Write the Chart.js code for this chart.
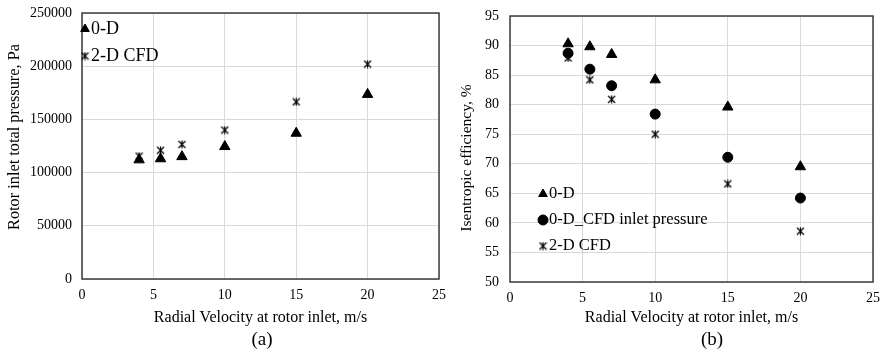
<!DOCTYPE html>
<html><head><meta charset="utf-8">
<script src="https://cdn.jsdelivr.net/npm/chart.js@4/dist/chart.umd.min.js"></script>
<style>
html,body{margin:0;padding:0;background:#fff;width:880px;height:360px;overflow:hidden;}
#wa{position:absolute;left:0;top:0;width:460px;height:360px;}
#wb{position:absolute;left:440px;top:0;width:448px;height:360px;}
.cap{position:absolute;top:328px;font-family:"Liberation Serif","Times New Roman",serif;font-size:19px;color:#000;transform:translateX(-50%);}
</style></head>
<body>
<div id="wa"><canvas id="ca" width="460" height="360"></canvas></div>
<div id="wb"><canvas id="cb" width="448" height="360"></canvas></div>
<div class="cap" style="left:262px">(a)</div>
<div class="cap" style="left:712px">(b)</div>
<script>
// ---- data ----
const velocity = [4, 5.5, 7, 10, 15, 20];
const pressure0D = [112000, 113000, 115000, 124500, 137000, 173500];
const pressureCFD = [115500, 121000, 126500, 140000, 166500, 202000];
const eff0D = [90.3, 89.8, 88.5, 84.2, 79.6, 69.5];
const eff0DCFDInlet = [88.7, 86.0, 83.2, 78.4, 71.1, 64.2];
const effCFD = [87.9, 84.2, 80.9, 75.0, 66.6, 58.6];
const xTicksMax = 25;
const labelsA = ['0-D', '2-D CFD'];
const labelsB = ['0-D', '0-D_CFD inlet pressure', '2-D CFD'];
const xTitle = 'Radial Velocity at rotor inlet, m/s';
const yTitleA = 'Rotor inlet total pressure, Pa';
const yTitleB = 'Isentropic efficiency, %';

const FONT = '"Liberation Serif","Times New Roman",serif';

function starCanvas(size, lw) {
  const c = document.createElement('canvas');
  c.width = size; c.height = size;
  const g = c.getContext('2d');
  g.strokeStyle = '#000'; g.lineWidth = lw;
  const p = 1;
  g.beginPath();
  g.moveTo(p, p); g.lineTo(size - p, size - p);
  g.moveTo(size - p, p); g.lineTo(p, size - p);
  g.moveTo(size / 2, p - 0.5); g.lineTo(size / 2, size - p + 0.5);
  g.stroke();
  return c;
}
const star = starCanvas(9, 1.2);

function mk(xs, ys) { return xs.map((x, i) => ({x: x, y: ys[i]})); }

const borderPlugin = {
  id: 'boxBorder',
  afterDraw(chart) {
    const a = chart.chartArea, g = chart.ctx;
    g.save();
    g.strokeStyle = '#3c3c3c'; g.lineWidth = 1.5;
    g.strokeRect(a.left, a.top, a.right - a.left, a.bottom - a.top);
    g.restore();
  }
};

function yTitlePlugin(text, x, y, size) {
  return {
    id: 'yTitle',
    afterDraw(chart) {
      const g = chart.ctx;
      g.save();
      g.translate(x, y);
      g.rotate(-Math.PI / 2);
      g.font = size + 'px ' + FONT;
      g.fillStyle = '#000';
      g.textAlign = 'center';
      g.textBaseline = 'middle';
      g.fillText(text, 0, 0);
      g.restore();
    }
  };
}

function legendPlugin(items, x0, y0, dy, size) {
  return {
    id: 'inLegend',
    afterDraw(chart) {
      const g = chart.ctx;
      g.save();
      g.font = size + 'px ' + FONT;
      g.textBaseline = 'middle';
      g.fillStyle = '#000';
      items.forEach((it, i) => {
        const y = y0 + i * dy;
        if (it.style === 'img') {
          g.drawImage(it.img, x0 - it.img.width / 2, y - it.img.height / 2);
        } else {
          Chart.helpers.drawPoint(g, {pointStyle: it.style, radius: it.r, borderWidth: 1}, x0, y);
          g.fillStyle = '#000';
        }
        g.fillText(it.label, x0 + 6, y);
      });
      g.restore();
    }
  };
}

function ds(label, data, style, r) {
  return {
    label: label, data: data, showLine: false,
    pointStyle: style, pointRadius: r, pointHoverRadius: r,
    backgroundColor: '#000', borderColor: '#000', borderWidth: 1
  };
}

function axisCommon() {
  return {
    grid: {color: '#d9d9d9', lineWidth: 1, drawTicks: false},
    border: {display: false},
    ticks: {color: '#000', font: {family: FONT, size: 14}, callback: v => String(v)},
    title: {display: true, color: '#000', font: {family: FONT, size: 16}}
  };
}

// ---- chart (a) ----
(function () {
  const x = axisCommon(), y = axisCommon();
  x.type = 'linear'; x.min = 0; x.max = xTicksMax;
  x.ticks.stepSize = 5; x.ticks.padding = 8; x.ticks.maxRotation = 0;
  x.title.text = xTitle;
  x.title.padding = {top: 0, bottom: 3};
  x.afterFit = s => { s.height = 51; };
  y.min = 0; y.max = 250000; y.ticks.stepSize = 50000; y.ticks.padding = 10;
  y.title.display = false;
  y.afterFit = s => { s.width = 82; s.paddingTop = 0; s.paddingBottom = 0; };
  new Chart(document.getElementById('ca'), {
    type: 'scatter',
    data: {datasets: [
      ds(labelsA[0], mk(velocity, pressure0D), 'triangle', 6),
      ds(labelsA[1], mk(velocity, pressureCFD), star, 5)
    ]},
    options: {
      responsive: false, animation: false, devicePixelRatio: 1,
      layout: {padding: {left: 0, right: 21, top: 13, bottom: 30}},
      plugins: {legend: {display: false}, tooltip: {enabled: false}},
      scales: {x: x, y: y}
    },
    plugins: [borderPlugin, yTitlePlugin(yTitleA, 15, 137, 16.3), legendPlugin([
      {style: 'triangle', r: 5, label: labelsA[0]},
      {style: 'img', img: star, label: labelsA[1]}
    ], 85, 29, 27, 18)]
  });
})();

// ---- chart (b) ----
(function () {
  const x = axisCommon(), y = axisCommon();
  x.type = 'linear'; x.min = 0; x.max = xTicksMax;
  x.ticks.stepSize = 5; x.ticks.padding = 8; x.ticks.maxRotation = 0;
  x.title.text = xTitle;
  x.title.padding = {top: 0, bottom: 3};
  x.afterFit = s => { s.height = 48; };
  y.min = 50; y.max = 95; y.ticks.stepSize = 5; y.ticks.padding = 11;
  y.title.display = false;
  y.afterFit = s => { s.width = 70; s.paddingTop = 0; s.paddingBottom = 0; };
  new Chart(document.getElementById('cb'), {
    type: 'scatter',
    data: {datasets: [
      ds(labelsB[0], mk(velocity, eff0D), 'triangle', 6),
      ds(labelsB[1], mk(velocity, eff0DCFDInlet), 'circle', 5),
      ds(labelsB[2], mk(velocity, effCFD), star, 5)
    ]},
    options: {
      responsive: false, animation: false, devicePixelRatio: 1,
      layout: {padding: {left: 0, right: 7, top: 16, bottom: 30}},
      plugins: {legend: {display: false}, tooltip: {enabled: false}},
      scales: {x: x, y: y}
    },
    plugins: [borderPlugin, yTitlePlugin(yTitleB, 27, 158, 15.5), legendPlugin([
      {style: 'triangle', r: 5, label: labelsB[0]},
      {style: 'circle', r: 5, label: labelsB[1]},
      {style: 'img', img: star, label: labelsB[2]}
    ], 103, 194, 26, 16.5)]
  });
})();
</script>
</body></html>
